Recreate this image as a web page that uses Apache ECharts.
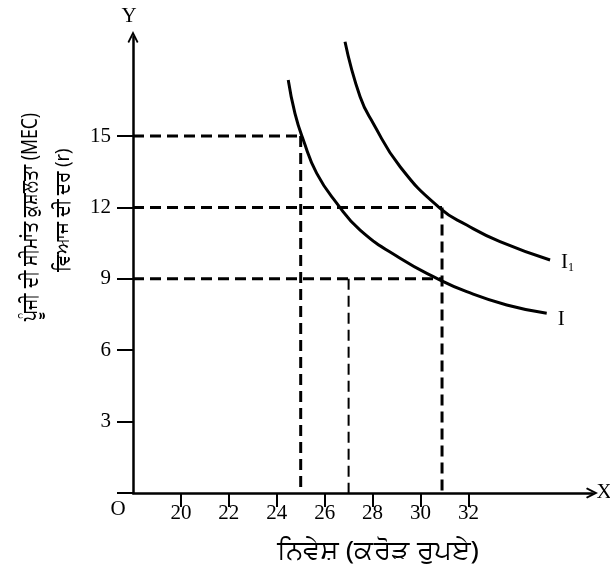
<!DOCTYPE html>
<html>
<head>
<meta charset="utf-8">
<script src="https://cdn.jsdelivr.net/npm/echarts@6/dist/echarts.min.js"></script>
<style>
  html, body { margin: 0; padding: 0; background: #fff; }
  #chart { width: 610px; height: 576px; }
</style>
</head>
<body>
<div id="chart"></div>
<script>
// investment (crore rupees) and rate values
var xTicks = [20, 22, 24, 26, 28, 30, 32];
var yTicks = [3, 6, 9, 12, 15];

// curve I
var curveIx = [24.48, 24.76, 25.11, 25.67, 26.51, 27.48, 29.15, 30.68, 31.93, 33.60, 35.27];
var curveIy = [17.35, 15.95, 14.83, 13.43, 12.17, 11.05, 9.86, 9.02, 8.46, 7.90, 7.55];
// curve I1
var curveI1x = [26.85, 27.48, 28.03, 29.15, 30.82, 31.93, 33.32, 35.41];
var curveI1y = [18.96, 16.65, 15.53, 13.71, 11.96, 11.26, 10.56, 9.79];

// dashed guide lines: rate level -> investment level
var guideRates = [15, 12, 9];
var guideInvest = [25, 30.9, 30.9];
var extraInvest = 27;   // short vertical from the 9% line

var xMin = 18, xMax = 37.16;
var yMin = 0, yMax = 19.16;

function pairs(xs, ys) {
    return xs.map(function (x, i) { return [x, ys[i]]; });
}

var serif = 'Liberation Serif';
var gurmukhi = 'Noto Sans, sans-serif';
var chevron = 'path://M0,10 L5,0 L10,10 L8.6,11 L5,4 L1.4,11 Z';

var dom = document.getElementById('chart');
var myChart = echarts.init(dom);

var guideSeries = [];
var widths = [3, 3, 2.6];
guideRates.forEach(function (r, i) {
    guideSeries.push({
        type: 'line',
        data: [[xMin, r], [guideInvest[i], r]],
        symbol: 'none',
        silent: true,
        lineStyle: { color: '#000', width: 3, type: [11, 6] }
    });
    if (i < 2) {
        guideSeries.push({
            type: 'line',
            data: [[guideInvest[i], r], [guideInvest[i], 0]],
            symbol: 'none',
            silent: true,
            lineStyle: { color: '#000', width: widths[i], type: [11, 6] }
        });
    }
});
guideSeries.push({
    type: 'line',
    data: [[extraInvest, guideRates[2]], [extraInvest, 0]],
    symbol: 'none',
    silent: true,
    lineStyle: { color: '#000', width: 2, type: [11, 6] }
});

var option = {
    backgroundColor: '#fff',
    animation: false,
    grid: { left: 133, right: 18, top: 37, bottom: 83 },
    xAxis: {
        type: 'value',
        min: xMin,
        max: xMax,
        interval: 2,
        splitLine: { show: false },
        axisLine: {
            onZero: false,
            symbol: ['none', chevron],
            symbolSize: [12, 12],
            lineStyle: { color: '#000', width: 2.5 }
        },
        axisTick: {
            customValues: xTicks,
            length: 14,
            lineStyle: { color: '#000', width: 2 }
        },
        axisLabel: {
            customValues: xTicks,
            margin: 10,
            color: '#000',
            fontFamily: serif,
            fontSize: 21
        }
    },
    yAxis: {
        type: 'value',
        min: yMin,
        max: yMax,
        interval: 3,
        splitLine: { show: false },
        axisLine: {
            onZero: false,
            symbol: ['none', chevron],
            symbolSize: [12, 12],
            lineStyle: { color: '#000', width: 2.5 }
        },
        axisTick: {
            customValues: [0].concat(yTicks),
            length: 16,
            lineStyle: { color: '#000', width: 2 }
        },
        axisLabel: {
            customValues: yTicks,
            margin: 22,
            color: '#000',
            fontFamily: serif,
            fontSize: 21
        }
    },
    graphic: [
        { type: 'text', x: 31, y: 217, rotation: Math.PI / 2, scaleX: 0.8,
          style: { text: 'ਪੂੰਜੀ ਦੀ ਸੀਮਾਂਤ ਕੁਸ਼ਲਤਾ (MEC)', font: '22px ' + gurmukhi, fill: '#000',
                   align: 'center', verticalAlign: 'middle' } },
        { type: 'text', x: 63, y: 210, rotation: Math.PI / 2, scaleX: 0.92,
          style: { text: 'ਵਿਆਜ ਦੀ ਦਰ (r)', font: '20px ' + gurmukhi, fill: '#000',
                   align: 'center', verticalAlign: 'middle' } },
        { type: 'text', x: 378, y: 552, scaleX: 1.08,
          style: { text: 'ਨਿਵੇਸ਼ (ਕਰੋੜ ਰੁਪਏ)', font: '26px ' + gurmukhi, fill: '#000',
                   align: 'center', verticalAlign: 'middle' } },
        { type: 'text', x: 118, y: 509,
          style: { text: 'O', font: '21px ' + serif, fill: '#000', align: 'center', verticalAlign: 'middle' } },
        { type: 'text', x: 129, y: 16,
          style: { text: 'Y', font: '21px ' + serif, fill: '#000', align: 'center', verticalAlign: 'middle' } },
        { type: 'text', x: 604, y: 492,
          style: { text: 'X', font: '21px ' + serif, fill: '#000', align: 'center', verticalAlign: 'middle' } }
    ],
    series: guideSeries.concat([
        {
            name: 'I',
            type: 'line',
            data: pairs(curveIx, curveIy),
            smooth: 0.5,
            symbol: 'none',
            lineStyle: { color: '#000', width: 3 },
            endLabel: {
                show: true,
                formatter: 'I',
                offset: [3, 6],
                color: '#000',
                fontFamily: serif,
                fontSize: 21
            }
        },
        {
            name: 'I1',
            type: 'line',
            data: pairs(curveI1x, curveI1y),
            smooth: 0.5,
            symbol: 'none',
            lineStyle: { color: '#000', width: 3 },
            endLabel: {
                show: true,
                formatter: 'I{s|1}',
                offset: [3, 2],
                color: '#000',
                fontFamily: serif,
                fontSize: 21,
                rich: { s: { fontFamily: serif, fontSize: 12, color: '#000', padding: [12, 0, 0, 0] } }
            }
        }
    ])
};

if (option && typeof option === "object") {
    myChart.setOption(option, true);
}
</script>
</body>
</html>
